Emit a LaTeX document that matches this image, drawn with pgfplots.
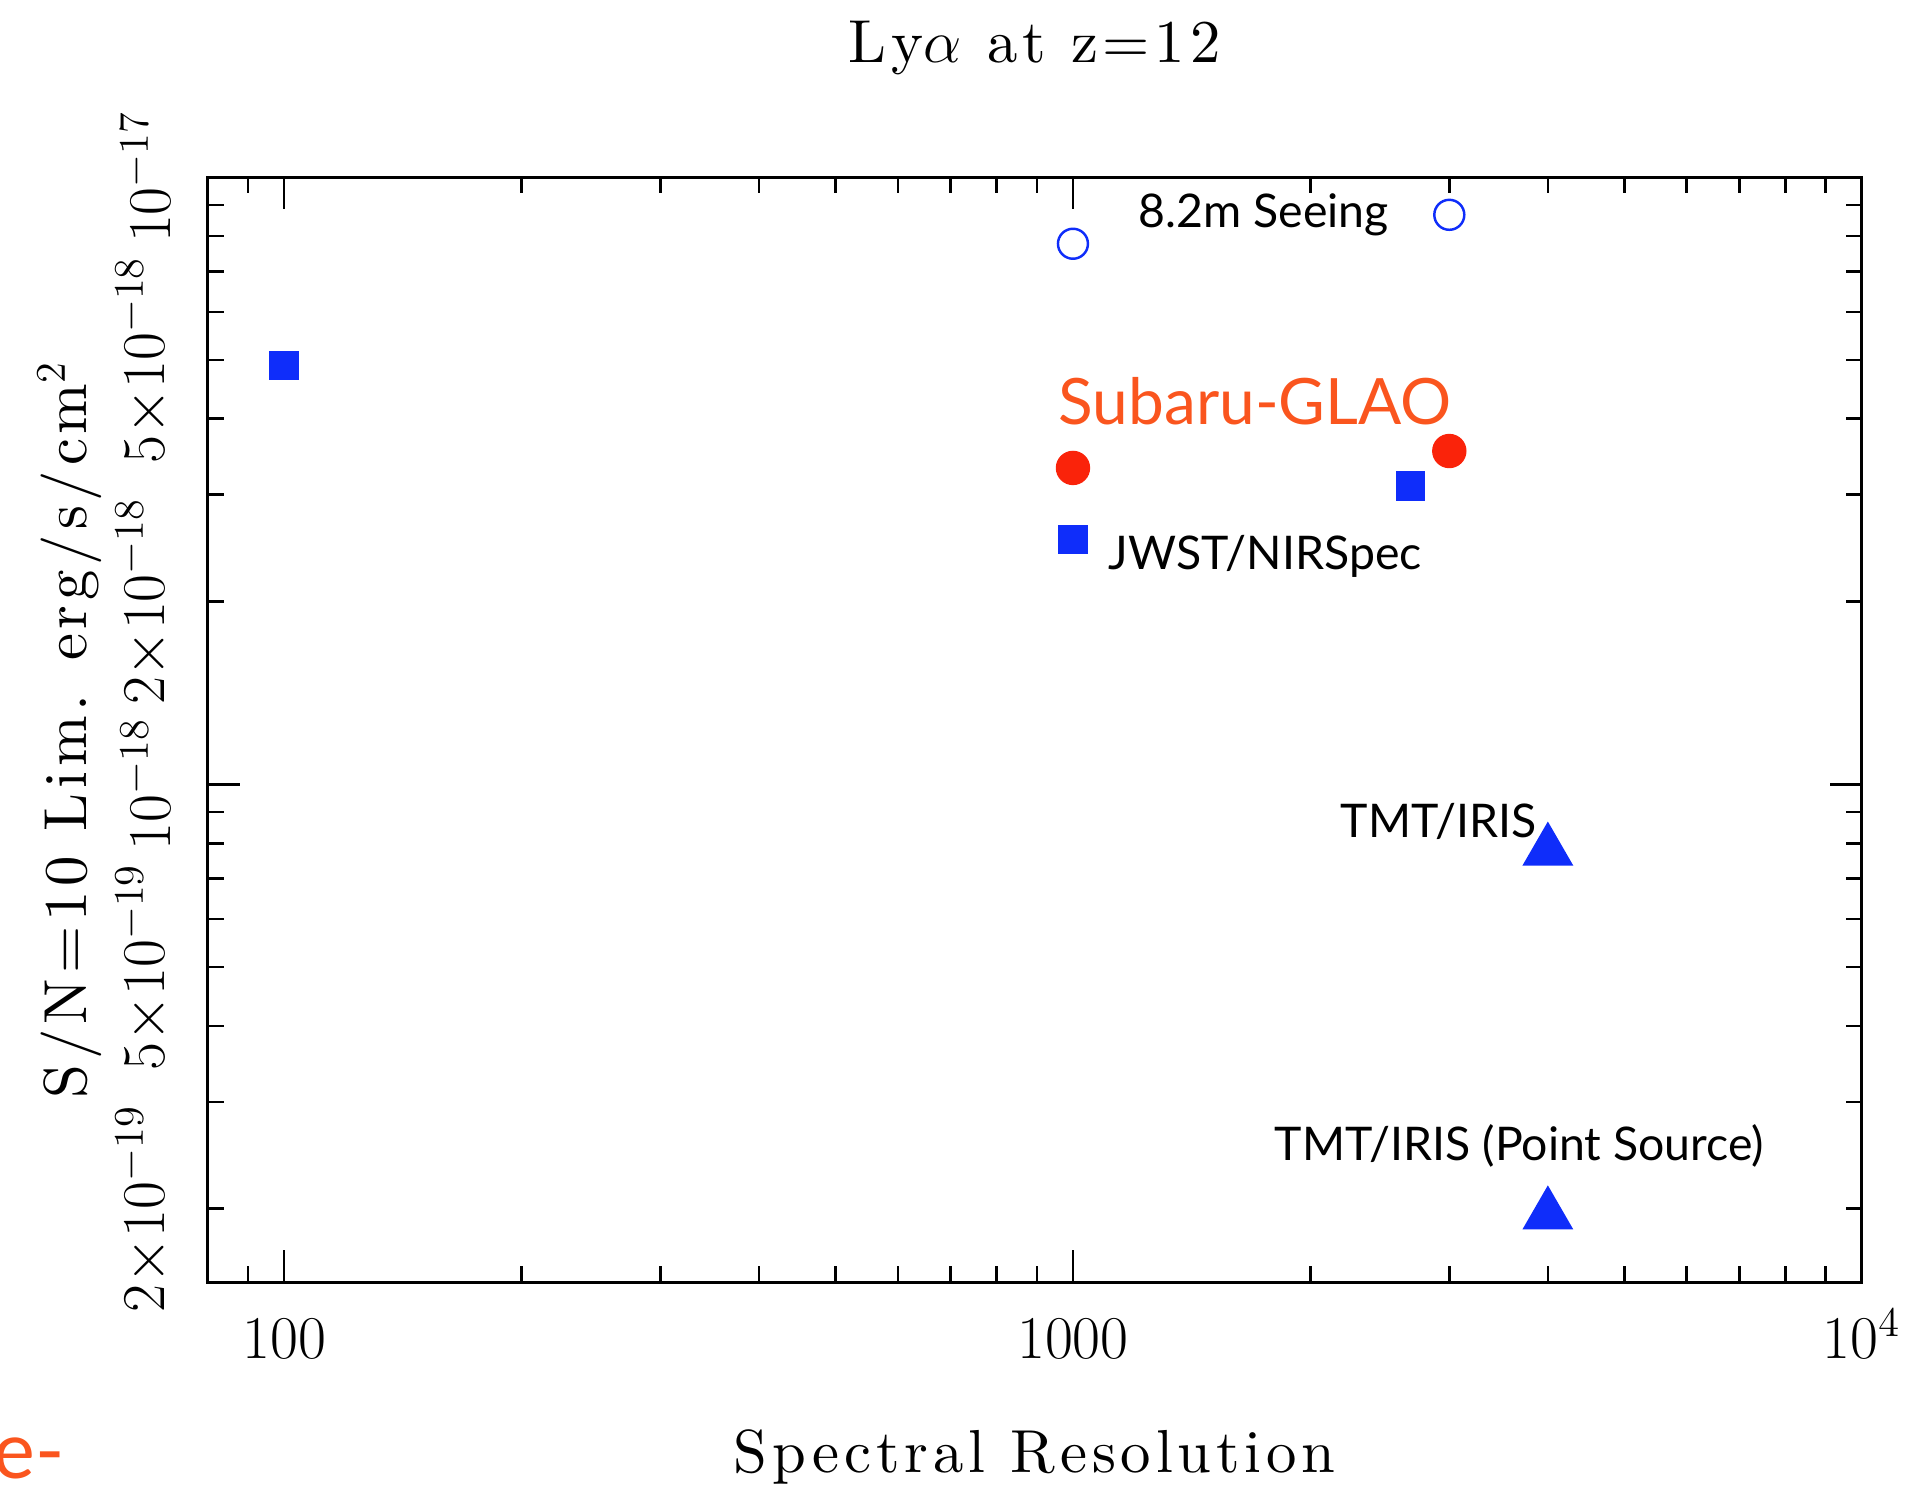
\documentclass[border=0pt]{standalone}
\usepackage{fontspec}
\usepackage{pgfplots}
\pgfplotsset{compat=1.18}
\newfontfamily\gill{Lato}
\newfontfamily\pg{lmroman10-regular.otf}[LetterSpace=8]
\definecolor{ptblue}{RGB}{15,45,250}
\definecolor{ptred}{RGB}{250,35,10}
\definecolor{glao}{RGB}{250,85,30}

\begin{document}
\begin{tikzpicture}
\useasboundingbox (0,0) rectangle (19.15,14.86);
\begin{axis}[
  scale only axis, width=16.54cm, height=11.05cm,
  at={(2.077cm,2.04cm)}, anchor=south west,
  xmode=log, ymode=log,
  xmin=80, xmax=10000, ymin=1.514e-19, ymax=1e-17,
  axis line style={line width=0.85pt},
  every tick/.style={black, line width=0.75pt},
  major tick length=0.32cm, minor tick length=0.16cm,
  tick label style={font=\LARGE},
  xtick={100,1000,10000}, xticklabels={100,1000,$10^4$},
  minor xtick={80,90,200,300,400,500,600,700,800,900,2000,3000,4000,5000,6000,7000,8000,9000},
  xticklabel style={anchor=base, inner sep=0pt, yshift=-0.76cm},
  ytick={1e-18,1e-17}, yticklabels={$10^{-18}$,$10^{-17}$},
  minor ytick={2e-19,3e-19,4e-19,5e-19,6e-19,7e-19,8e-19,9e-19,2e-18,3e-18,4e-18,5e-18,6e-18,7e-18,8e-18,9e-18},
  extra y ticks={2e-19,5e-19,2e-18,5e-18},
  extra y tick labels={$2{\times}10^{-19}$,$5{\times}10^{-19}$,$2{\times}10^{-18}$,$5{\times}10^{-18}$},
  extra y tick style={major tick length=0.16cm},
  yticklabel style={rotate=90, anchor=south, inner xsep=0pt, inner ysep=0.37cm},
  title={Ly$\alpha$\ at\ z=12},
  title style={font=\pg\LARGE, at={(axis description cs:0.5,1.085)}, anchor=base},
  xlabel={Spectral Resolution},
  xlabel style={font=\pg\LARGE, at={(axis description cs:0.5,-0.172)}, anchor=base},
  ylabel={S/N=10 Lim. erg/s/cm$^2$},
  ylabel style={font=\pg\LARGE, at={(axis description cs:-0.073,0.5)}, anchor=base},
]
% 8.2m seeing
\addplot[only marks, mark=o, mark size=0.15cm, ptblue, line width=0.7pt, mark options={fill=white}]
  coordinates {(1000,7.77e-18) (3000,8.67e-18)};
% Subaru-GLAO
\addplot[only marks, mark=*, mark size=0.165cm, ptred, mark options={draw=ptred, fill=ptred}]
  coordinates {(1000,3.32e-18) (3000,3.54e-18)};
% JWST/NIRSpec
\addplot[only marks, mark=square*, mark size=0.14cm, ptblue, mark options={draw=ptblue, fill=ptblue}]
  coordinates {(100,4.90e-18) (1000,2.53e-18) (2680,3.10e-18)};
% TMT/IRIS
\addplot[only marks, mark=triangle*, mark size=0.28cm, ptblue, mark options={draw=ptblue, fill=ptblue}]
  coordinates {(4000,7.77e-19) (4000,1.955e-19)};
\end{axis}
\tikzset{lbl/.style={anchor=base west, inner sep=0pt, font=\gill\fontsize{13.2}{15}\selectfont}}
\node[lbl] at (11.38,12.58) {8.2m Seeing};
\node[anchor=base west, inner sep=0pt, font=\gill\fontsize{18.2}{20}\selectfont, text=glao] at (10.58,10.61) {Subaru-GLAO};
\node[lbl] at (11.08,9.16) {JWST/NIRSpec};
\node[lbl] at (13.40,6.49) {TMT/IRIS};
\node[lbl] at (12.74,3.26) {TMT/IRIS (Point Source)};
\node[anchor=base east, font=\gill\fontsize{22.5}{24}\selectfont, text=glao, inner sep=0pt] at (0.65,0.08) {Se-};
\end{tikzpicture}
\end{document}
